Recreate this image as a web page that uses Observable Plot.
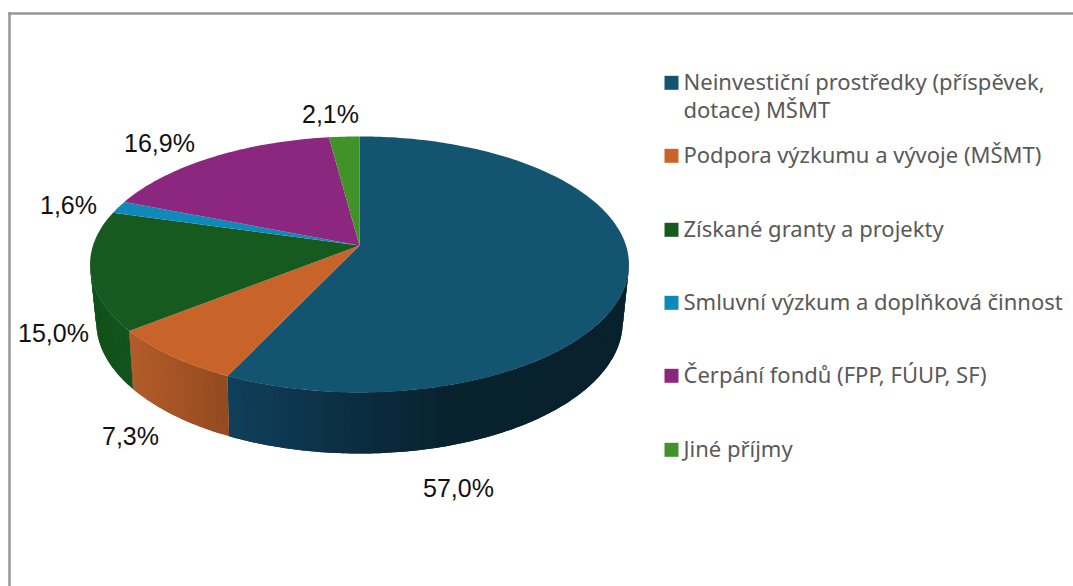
<!DOCTYPE html>
<html><head><meta charset="utf-8">
<style>html,body{margin:0;padding:0;background:#fff}svg{display:block}</style>
<script src="https://cdn.jsdelivr.net/npm/d3@7"></script>
<script src="https://cdn.jsdelivr.net/npm/@observablehq/plot@0.6"></script>
</head><body><div id="chart"></div>
<script>
const categories = ["Neinvestiční prostředky (příspěvek,\ndotace) MŠMT","Podpora výzkumu a vývoje (MŠMT)","Získané granty a projekty","Smluvní výzkum a doplňková činnost","Čerpání fondů (FPP, FÚUP, SF)","Jiné příjmy"];
const shares = [57.0, 7.3, 15.0, 1.6, 16.9, 2.1];
const shareLabels = ["57,0%","7,3%","15,0%","1,6%","16,9%","2,1%"];
const colors = ["#135470","#C8632A","#175A20","#0D8ABA","#8C277F","#419228"];

// drawing settings
const K = 0.148, K2 = 0.16, RING_X = 0.975, RING_Y = 1.024, DEPTH = -0.4425;
const labelSpots = [[458,488],[130,436],[53,333],[68,205],[159,143],[330,114]];
const legendY = [83,156,230,303,376,450];
const wallRamp = [
  {at:[-0.48,0,0.35,1], c:["#0F3F5A","#0B2C40","#08222E","#08212C"]},
  {at:[-0.85,-0.48], c:["#B35B2A","#914A20"]},
  {at:[-1,-0.85], c:["#125019","#13531C"]}
];

const total = d3.sum(shares);
let run = 0;
const slices = shares.map((s,i)=>{const a0=run/total*360; run+=s; return {i,a0,a1:run/total*360};});
const upper = a => {const r=a*Math.PI/180,u=Math.sin(r),v=Math.cos(r),w=1+K*v; return {x:u/w,y:v/w};};
const lower = a => {const r=a*Math.PI/180,u=Math.sin(r),v=Math.cos(r),w=1+K2*v; return {x:RING_X*u/w,y:DEPTH+RING_Y*v/w};};
const arc = (a0,a1,step=1)=>{const n=Math.max(1,Math.ceil((a1-a0)/step)); return d3.range(n+1).map(j=>a0+(a1-a0)*j/n);};

const tangent = Math.acos(-K)*180/Math.PI;
const visA0 = tangent, visA1 = 360-tangent;

const faces = slices.flatMap(s=>[{x:0,y:0,id:s.i,fill:colors[s.i]},...arc(s.a0,s.a1).map(a=>({...upper(a),id:s.i,fill:colors[s.i]}))]);

// each wall strip reaches over the next one, so no seams show between them
const walls = slices.flatMap(s=>{
  const a0=Math.max(s.a0,visA0), a1=Math.min(s.a1,visA1);
  if(a1<=a0||!wallRamp[s.i]) return [];
  const shade=d3.scaleLinear().domain(wallRamp[s.i].at).range(wallRamp[s.i].c).clamp(true);
  const as=arc(a0,a1,1.5); const out=[];
  for(let j=0;j<as.length-1;j++){
    const end=as[Math.min(j+2,as.length-1)];
    const c=shade(upper((as[j]+as[j+1])/2).x), id=s.i+"-"+j;
    const span=arc(as[j],end,0.75);
    [...span.map(upper),...span.slice().reverse().map(lower)].forEach(p=>out.push({...p,id,fill:c}));
  }
  return out;
});

const marks = [
  Plot.frame({anchor:"top",stroke:"#969696",strokeWidth:2.5}),
  Plot.frame({anchor:"left",stroke:"#969696",strokeWidth:2.5}),
  Plot.line(walls,{x:"x",y:"y",z:"id",fill:"fill",stroke:"none"}),
  Plot.line(faces,{x:"x",y:"y",z:"id",fill:"fill",stroke:"none"})
];
const ML=9, MT=13;
shareLabels.forEach((t,i)=>marks.push(Plot.text([t],{text:d=>d,frameAnchor:"top-left",dx:labelSpots[i][0]-ML,dy:labelSpots[i][1]-MT,fontSize:25,fontFamily:"Liberation Sans",fill:"#111",textAnchor:"middle",lineAnchor:"middle"})));
categories.forEach((t,i)=>{
  marks.push(Plot.dot([t],{frameAnchor:"top-left",dx:671-ML,dy:legendY[i]-MT-0.7,symbol:"square",r:7.9,fill:colors[i],stroke:"none"}));
  marks.push(Plot.text([t],{text:d=>d,frameAnchor:"top-left",dx:683-ML,dy:legendY[i]-MT-13.5,fontSize:22,lineHeight:28/22,fontFamily:"Noto Sans",fill:"#595959",textAnchor:"start",lineAnchor:"top"}));
});

document.getElementById("chart").append(Plot.plot({
  width:1073,height:586,marginLeft:ML,marginTop:MT,marginRight:0,marginBottom:0,
  style:{background:"#fff",overflow:"visible"},
  x:{domain:[-1,1],range:[92.5,625.5],axis:null},
  y:{domain:[-1,1],range:[370.2,119.8],axis:null},
  marks
}));
</script></body></html>
